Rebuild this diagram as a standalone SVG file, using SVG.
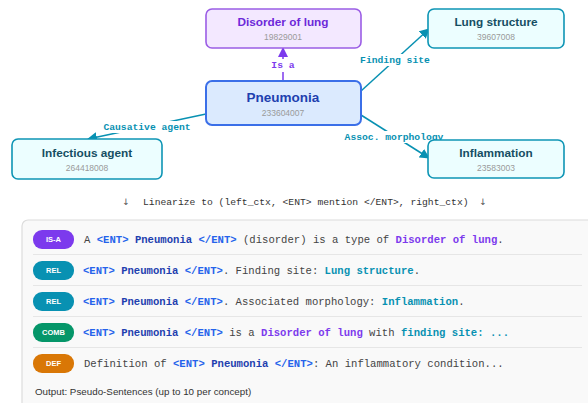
<svg xmlns="http://www.w3.org/2000/svg" width="588" height="403" viewBox="0 0 588 403">
<style>
.box{stroke-width:1.6}
.title{font-family:"Liberation Sans",Arial,sans-serif;font-weight:bold;text-anchor:middle}
.id{font-family:"Liberation Sans",Arial,sans-serif;font-size:8.5px;fill:#9a9a9a;text-anchor:middle}
.elab{font-family:"Liberation Mono","DejaVu Sans Mono",monospace;font-weight:bold;font-size:9.7px;text-anchor:middle}
.lbg{fill:#fff}
.mono{font-family:"Liberation Mono","DejaVu Sans Mono",monospace;font-size:10.6px;fill:#444}
.ent{fill:#2563eb;font-weight:bold}
.pn{fill:#1e40af;font-weight:bold}
.pu{fill:#7c3aed;font-weight:bold}
.te{fill:#0891b2;font-weight:bold}
.badge-t{font-family:"Liberation Sans",Arial,sans-serif;font-weight:bold;font-size:7.5px;fill:#fff;text-anchor:middle}
.sep{stroke:#e6e6e6;stroke-width:1}
.arr{font-family:"DejaVu Sans",sans-serif;font-size:9px;fill:#555;text-anchor:middle}
</style>
<defs>
<marker id="ap" viewBox="0 0 10 10" refX="9" refY="5" markerWidth="10" markerHeight="10" markerUnits="userSpaceOnUse" orient="auto"><path d="M0,0 L10,5 L0,10 z" fill="#7c3aed"/></marker>
<marker id="at" viewBox="0 0 10 10" refX="9" refY="5" markerWidth="10" markerHeight="10" markerUnits="userSpaceOnUse" orient="auto"><path d="M0,0 L10,5 L0,10 z" fill="#0891b2"/></marker>
</defs>
<rect width="588" height="403" fill="#fff"/>

<g id="connectors">
<line x1="283" y1="81" x2="283" y2="48" stroke="#7c3aed" stroke-width="1.5" marker-end="url(#ap)"/>
<line x1="361" y1="91" x2="429" y2="29" stroke="#0891b2" stroke-width="1.5" marker-end="url(#at)"/>
<line x1="361" y1="115" x2="429" y2="158" stroke="#0891b2" stroke-width="1.5" marker-end="url(#at)"/>
<line x1="206" y1="114" x2="88" y2="139" stroke="#0891b2" stroke-width="1.5" marker-end="url(#at)"/>
<rect class="lbg" x="270" y="59" width="26" height="13"/>
<text class="elab" x="283" y="68" fill="#7c3aed">Is a</text>
<rect class="lbg" x="359" y="54" width="72" height="12"/>
<text class="elab" x="395" y="63" fill="#0891b2">Finding site</text>
<rect class="lbg" x="344" y="131" width="100" height="12"/>
<text class="elab" x="394" y="140" fill="#0891b2">Assoc. morphology</text>
<rect class="lbg" x="102" y="121" width="90" height="12"/>
<text class="elab" x="147" y="130" fill="#0891b2">Causative agent</text>
</g>

<g id="disorder-of-lung">
<rect class="box" x="206" y="9" width="155" height="39" rx="6" fill="#f3e8ff" stroke="#9b5de5"/>
<text class="title" x="283" y="26" font-size="11.8" fill="#6d28d9">Disorder of lung</text>
<text class="id" x="283" y="40">19829001</text>
</g>

<g id="pneumonia">
<rect x="206" y="81" width="155" height="44" rx="6" fill="#dbeafe" stroke="#3b6fe8" stroke-width="2"/>
<text class="title" x="283" y="102" font-size="13.5" fill="#1e40af">Pneumonia</text>
<text class="id" x="283" y="116">233604007</text>
</g>

<g id="lung-structure">
<rect class="box" x="428" y="9" width="136" height="39" rx="6" fill="#ecfeff" stroke="#0e95b5"/>
<text class="title" x="496" y="26" font-size="11.8" fill="#164e63">Lung structure</text>
<text class="id" x="496" y="40">39607008</text>
</g>

<g id="inflammation">
<rect class="box" x="428" y="140" width="136" height="38" rx="6" fill="#ecfeff" stroke="#0e95b5"/>
<text class="title" x="496" y="157" font-size="11.8" fill="#164e63">Inflammation</text>
<text class="id" x="496" y="171">23583003</text>
</g>

<g id="infectious-agent">
<rect class="box" x="12" y="139" width="150" height="40" rx="6" fill="#ecfeff" stroke="#0e95b5"/>
<text class="title" x="87" y="157" font-size="11.8" fill="#164e63">Infectious agent</text>
<text class="id" x="87" y="171">264418008</text>
</g>

<g id="linearize">
<text class="arr" x="126" y="205">↓</text>
<text x="143" y="205" font-family="Liberation Mono,monospace" font-size="9.7" fill="#333">Linearize to (left_ctx, &lt;ENT&gt; mention &lt;/ENT&gt;, right_ctx)</text>
<text class="arr" x="483" y="205">↓</text>
</g>

<g id="output-panel">
<rect x="22" y="220" width="580" height="200" rx="6" fill="#f9f9f9" stroke="#dcdcdc" stroke-width="1.2"/>
<line class="sep" x1="33" y1="254.5" x2="582" y2="254.5"/>
<line class="sep" x1="33" y1="285.5" x2="582" y2="285.5"/>
<line class="sep" x1="33" y1="316.5" x2="582" y2="316.5"/>
<line class="sep" x1="33" y1="347.5" x2="582" y2="347.5"/>

<g id="row-isa">
<rect x="33" y="230" width="41" height="19" rx="9" fill="#7c3aed"/>
<text class="badge-t" x="53.5" y="242">IS-A</text>
<text class="mono" x="84" y="243">A <tspan class="ent">&lt;ENT&gt;</tspan> <tspan class="pn">Pneumonia</tspan> <tspan class="ent">&lt;/ENT&gt;</tspan> (disorder) is a type of <tspan class="pu">Disorder of lung</tspan>.</text>
</g>
<g id="row-rel1">
<rect x="33" y="261" width="41" height="19" rx="9" fill="#0891b2"/>
<text class="badge-t" x="53.5" y="273">REL</text>
<text class="mono" x="83" y="274"><tspan class="ent">&lt;ENT&gt;</tspan> <tspan class="pn">Pneumonia</tspan> <tspan class="ent">&lt;/ENT&gt;</tspan>. Finding site: <tspan class="te">Lung structure</tspan>.</text>
</g>
<g id="row-rel2">
<rect x="33" y="292" width="41" height="19" rx="9" fill="#0891b2"/>
<text class="badge-t" x="53.5" y="304">REL</text>
<text class="mono" x="83" y="305"><tspan class="ent">&lt;ENT&gt;</tspan> <tspan class="pn">Pneumonia</tspan> <tspan class="ent">&lt;/ENT&gt;</tspan>. Associated morphology: <tspan class="te">Inflammation</tspan>.</text>
</g>
<g id="row-comb">
<rect x="33" y="323" width="41" height="19" rx="9" fill="#059669"/>
<text class="badge-t" x="53.5" y="335">COMB</text>
<text class="mono" x="83" y="336"><tspan class="ent">&lt;ENT&gt;</tspan> <tspan class="pn">Pneumonia</tspan> <tspan class="ent">&lt;/ENT&gt;</tspan> is a <tspan class="pu">Disorder of lung</tspan> with <tspan class="te">finding site: ...</tspan></text>
</g>
<g id="row-def">
<rect x="33" y="354" width="41" height="19" rx="9" fill="#d97706"/>
<text class="badge-t" x="53.5" y="366">DEF</text>
<text class="mono" x="84" y="367">Definition of <tspan class="ent">&lt;ENT&gt;</tspan> <tspan class="pn">Pneumonia</tspan> <tspan class="ent">&lt;/ENT&gt;</tspan>: An inflammatory condition...</text>
</g>
<text x="35" y="395" font-family="Liberation Sans,Arial,sans-serif" font-size="9.8" fill="#333">Output: Pseudo-Sentences (up to 10 per concept)</text>
</g>
</svg>
